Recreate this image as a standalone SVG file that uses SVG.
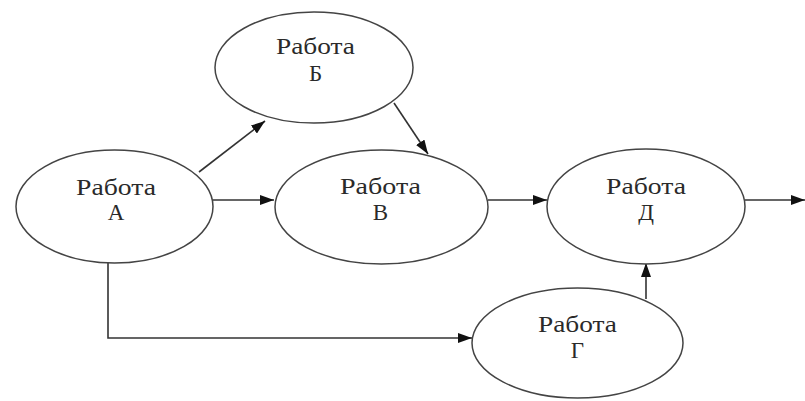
<svg xmlns="http://www.w3.org/2000/svg" width="805" height="401" viewBox="0 0 805 401">
<style>
.n ellipse{fill:#fff;stroke:#444;stroke-width:1.5}
.n text{font-family:"Liberation Serif","Times New Roman",serif;font-size:23px;fill:#2a2a2a;text-anchor:middle}
.c path{fill:none;stroke:#333;stroke-width:1.6}
</style>
<defs>
<marker id="ah" viewBox="0 0 14 10" refX="14" refY="5" markerWidth="14" markerHeight="10" markerUnits="userSpaceOnUse" orient="auto">
<path d="M0,0 L14,5 L0,10 Z" fill="#111"/>
</marker>
</defs>
<rect width="805" height="401" fill="#fff"/>
<g class="c">
<path d="M199,172 L265,121" marker-end="url(#ah)"/>
<path d="M394,103 L428,154" marker-end="url(#ah)"/>
<path d="M213,200 L274,200" marker-end="url(#ah)"/>
<path d="M488,200 L547,200" marker-end="url(#ah)"/>
<path d="M745,200 L805,200" marker-end="url(#ah)"/>
<path d="M646,299 L646,263" marker-end="url(#ah)"/>
<path d="M108,263 L108,338 L472,338" marker-end="url(#ah)"/>
</g>
<g id="nodeA" class="n">
<ellipse cx="114.5" cy="206.5" rx="98.5" ry="56.5"/>
<text x="116" y="195" textLength="80" lengthAdjust="spacingAndGlyphs">Работа</text>
<text x="116" y="220">А</text>
</g>
<g id="nodeB" class="n">
<ellipse cx="314" cy="67.5" rx="99" ry="55.5"/>
<text x="315.5" y="54" textLength="79" lengthAdjust="spacingAndGlyphs">Работа</text>
<text x="315.5" y="81">Б</text>
</g>
<g id="nodeV" class="n">
<ellipse cx="381.5" cy="207" rx="106.5" ry="57"/>
<text x="380.5" y="194" textLength="81" lengthAdjust="spacingAndGlyphs">Работа</text>
<text x="380.5" y="220">В</text>
</g>
<g id="nodeD" class="n">
<ellipse cx="646" cy="206.5" rx="99" ry="57.5"/>
<text x="646" y="194" textLength="80" lengthAdjust="spacingAndGlyphs">Работа</text>
<text x="646" y="220">Д</text>
</g>
<g id="nodeG" class="n">
<ellipse cx="577.5" cy="343" rx="105.5" ry="55"/>
<text x="577.5" y="332" textLength="79" lengthAdjust="spacingAndGlyphs">Работа</text>
<text x="577.5" y="358">Г</text>
</g>
</svg>
